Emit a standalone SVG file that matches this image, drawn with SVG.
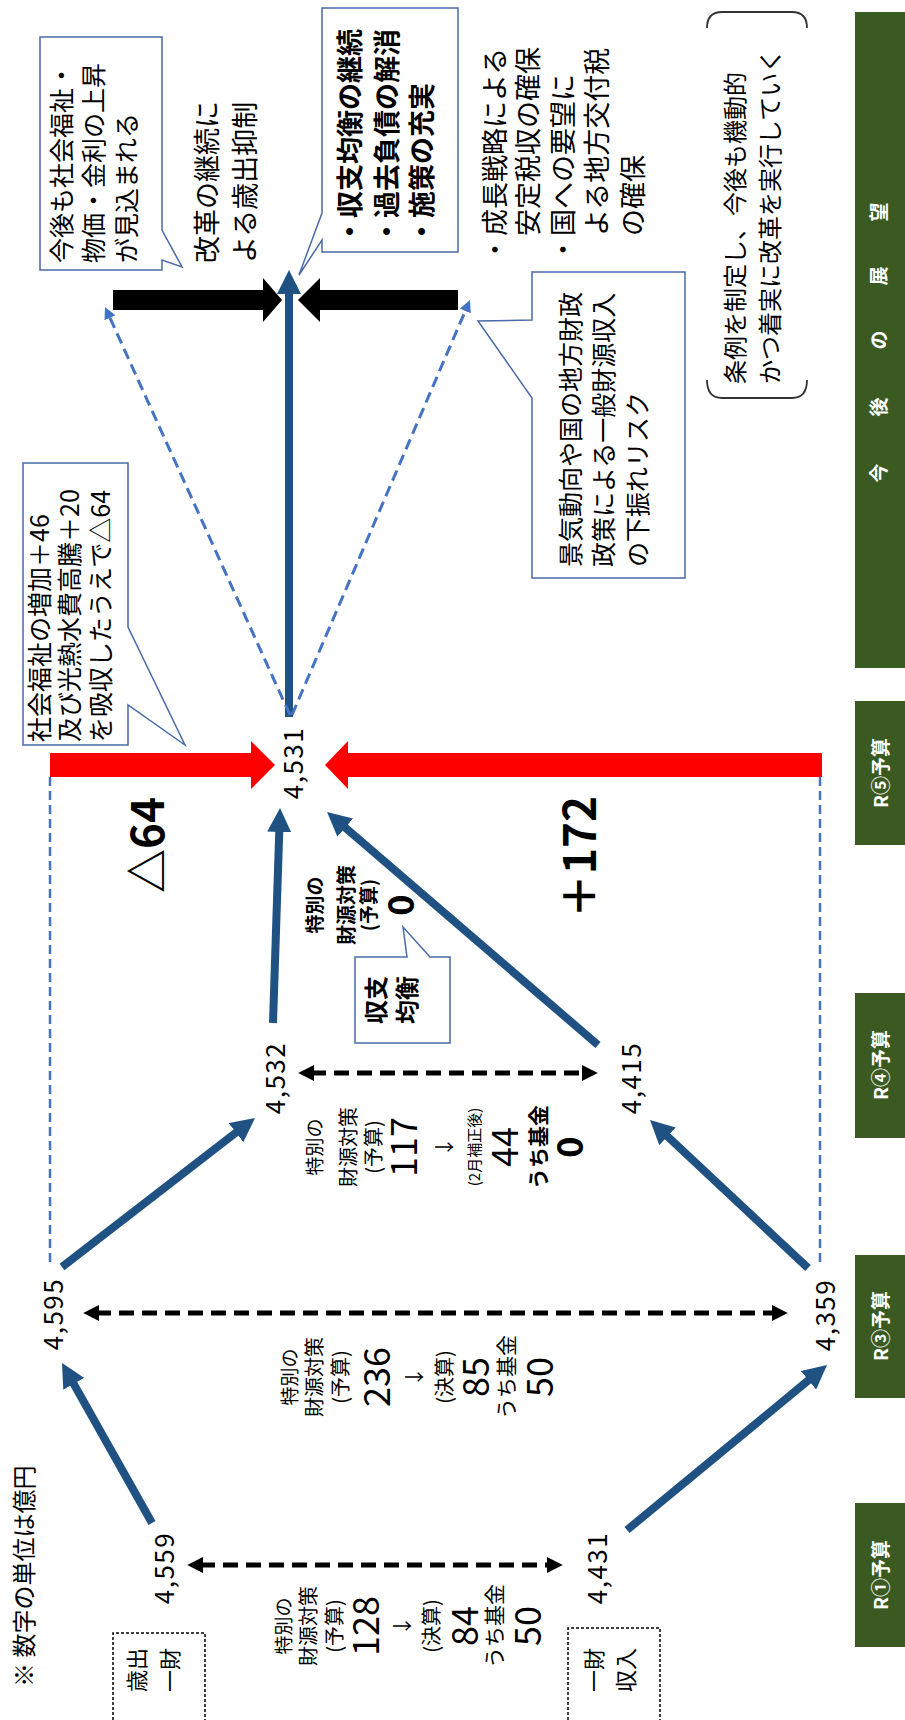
<svg xmlns="http://www.w3.org/2000/svg" width="905" height="1720" viewBox="0 0 905 1720">
<style>
text{font-family:'Noto Sans CJK JP','Noto Sans',sans-serif;fill:#000}
.m{text-anchor:middle}
.b{font-weight:bold}
.val{font-size:26px;text-anchor:middle;letter-spacing:1.5px}
.g{fill:#3b5a22}
.gl{fill:#fff;font-weight:bold;font-size:19px;text-anchor:middle}
.blue{stroke:#1f5183;stroke-width:8;fill:none;marker-end:url(#ab)}
.bd{stroke:#000;stroke-width:5;stroke-dasharray:15 8;fill:none;marker-start:url(#ak);marker-end:url(#ak)}
.td{stroke:#4472c4;stroke-width:2.5;stroke-dasharray:9 5;fill:none}
.tda{stroke:#4472c4;stroke-width:3;stroke-dasharray:11 6;fill:none;marker-end:url(#ad)}
.co{fill:#fff;stroke:#4a6aa8;stroke-width:1.5}
.db{fill:none;stroke:#000;stroke-width:1.5;stroke-dasharray:3 2}
.red{fill:#ff0000}
.blk{fill:#000}
</style>
<defs>
<marker id="ab" viewBox="0 0 10 10" refX="2" refY="5" markerWidth="3" markerHeight="3" orient="auto"><path d="M0,0 L10,5 L0,10 z" fill="#1f5183"/></marker>
<marker id="ak" viewBox="0 0 10 10" refX="2" refY="5" markerWidth="3.2" markerHeight="3.2" orient="auto-start-reverse"><path d="M0,0 L10,5 L0,10 z" fill="#000"/></marker>
<marker id="ad" viewBox="0 0 10 10" refX="2" refY="5" markerWidth="4" markerHeight="4" orient="auto"><path d="M0,0 L10,5 L0,10 z" fill="#4472c4"/></marker>
</defs>
<rect width="905" height="1720" fill="#fff"/>
<g transform="translate(0,1720) rotate(-90)">
  <g id="timeline">
    <rect class="g" x="73" y="855" width="144" height="52"/>
    <text class="gl" x="145" y="888">R①予算</text>
    <rect class="g" x="322" y="855" width="143" height="52"/>
    <text class="gl" x="394" y="888">R③予算</text>
    <rect class="g" x="582" y="855" width="145" height="52"/>
    <text class="gl" x="655" y="888">R④予算</text>
    <rect class="g" x="875" y="855" width="144" height="52"/>
    <text class="gl" x="947" y="888">R⑤予算</text>
    <rect class="g" x="1052" y="855" width="656" height="52"/>
    <text class="gl" x="1247 1313 1380 1444 1508" y="886">今後の展望</text>
  </g>
  <g id="note">
    <text x="33" y="33" font-size="24">※ 数字の単位は億円</text>
  </g>
  <g id="legend-expenditure">
    <rect class="db" x="-5" y="113" width="92" height="92"/>
    <text class="m" x="50" y="145" font-size="22">歳出</text>
    <text class="m" x="50" y="178" font-size="22">一財</text>
  </g>
  <g id="legend-revenue">
    <rect class="db" x="-5" y="568" width="97" height="92"/>
    <text class="m" x="50" y="602" font-size="22">一財</text>
    <text class="m" x="50" y="634" font-size="22">収入</text>
  </g>
  <g id="connectors">
    <line class="td" x1="458" y1="50" x2="943" y2="50"/>
    <line class="td" x1="458" y1="820" x2="943" y2="820"/>
    <line class="blue" x1="197" y1="152" x2="340.3" y2="71.4"/>
    <line class="blue" x1="453" y1="62" x2="590.3" y2="239.8"/>
    <line class="blue" x1="190" y1="627" x2="342.8" y2="812.2"/>
    <line class="blue" x1="452" y1="808" x2="586.9" y2="664"/>
    <line class="blue" x1="697" y1="273" x2="892.8" y2="279.4"/>
    <line class="blue" x1="675" y1="598" x2="895.5" y2="341.6"/>
    <line class="blue" x1="1003" y1="289" x2="1430.8" y2="289"/>
    <line class="bd" x1="155" y1="200" x2="155" y2="550"/>
    <line class="bd" x1="407" y1="96" x2="407" y2="775"/>
    <line class="bd" x1="647" y1="311" x2="647" y2="585"/>
    <line class="tda" x1="1005" y1="290" x2="1404.3" y2="109"/>
    <line class="tda" x1="1005" y1="292" x2="1411.2" y2="466.2"/>
    <polygon class="red" points="943,50 967,50 967,251 979,251 955,275 931,251 943,251"/>
    <polygon class="red" points="943,822 967,822 967,348 979,348 955,325 931,348 943,348"/>
    <polygon class="blk" points="1410,113 1430,113 1430,263 1442,263 1420,282 1398,263 1410,263"/>
    <polygon class="blk" points="1410,458 1430,458 1430,320 1442,320 1420,298 1398,320 1410,320"/>
  </g>
  <g id="n4559"><text class="val" x="152" y="174">4,559</text></g>
  <g id="n4431"><text class="val" x="152" y="607">4,431</text></g>
  <g id="n4595"><text class="val" x="406" y="63">4,595</text></g>
  <g id="n4359"><text class="val" x="405" y="835">4,359</text></g>
  <g id="n4532"><text class="val" x="642" y="285">4,532</text></g>
  <g id="n4415"><text class="val" x="642" y="641">4,415</text></g>
  <g id="n4531"><text class="val" x="957" y="303">4,531</text></g>
  <g id="r1-detail" class="m">
    <text class="m" x="94" y="291" font-size="19">特別の</text>
    <text class="m" x="94" y="316" font-size="20">財源対策</text>
    <text class="m" x="94" y="342" font-size="20">(予算)</text>
    <text class="m" x="94" y="379" font-size="36">128</text>
    <text class="m" x="94" y="410" font-size="20">↓</text>
    <text class="m" x="94" y="439" font-size="20">(決算)</text>
    <text class="m" x="94" y="478" font-size="36">84</text>
    <text class="m" x="94" y="502" font-size="21">うち基金</text>
    <text class="m" x="94" y="541" font-size="36">50</text>
  </g>
  <g id="r3-detail">
    <text class="m" x="343" y="297" font-size="19">特別の</text>
    <text class="m" x="343" y="322" font-size="20">財源対策</text>
    <text class="m" x="343" y="348" font-size="20">(予算)</text>
    <text class="m" x="343" y="390" font-size="36">236</text>
    <text class="m" x="343" y="422" font-size="20">↓</text>
    <text class="m" x="343" y="452" font-size="20">(決算)</text>
    <text class="m" x="343" y="489" font-size="36">85</text>
    <text class="m" x="343" y="514" font-size="21">うち基金</text>
    <text class="m" x="343" y="553" font-size="36">50</text>
  </g>
  <g id="r4-detail">
    <text class="m" x="573" y="322" font-size="19">特別の</text>
    <text class="m" x="573" y="356" font-size="20">財源対策</text>
    <text class="m" x="573" y="381" font-size="20">(予算)</text>
    <text class="m" x="573" y="417" font-size="36">117</text>
    <text class="m" x="573" y="452" font-size="20">↓</text>
    <text class="m" x="573" y="480" font-size="15">(2月補正後)</text>
    <text class="m" x="573" y="518" font-size="36">44</text>
    <text class="m b" x="573" y="546" font-size="21">うち基金</text>
    <text class="m b" x="573" y="583" font-size="36">0</text>
  </g>
  <g id="r5-detail">
    <text class="m b" x="815" y="322" font-size="19">特別の</text>
    <text class="m b" x="815" y="354" font-size="20">財源対策</text>
    <text class="m b" x="815" y="376" font-size="19">(予算)</text>
    <text class="m b" x="815" y="414" font-size="36">0</text>
  </g>
  <g id="diff-minus">
    <text class="m b" x="875" y="164" font-size="44">△64</text>
  </g>
  <g id="diff-plus">
    <text class="m b" x="863" y="596" font-size="44">＋172</text>
  </g>
  <g id="callout-balance">
    <path class="co" d="M677,355 H763 V407 L793,403 L763,430 V450 H677 Z"/>
    <text class="m b" x="720" y="385" font-size="24">収支</text>
    <text class="m b" x="720" y="416" font-size="24">均衡</text>
  </g>
  <g id="callout-absorb">
    <path class="co" d="M975,23 H1257 V128 H1093 L975,185 L1015,128 H975 Z"/>
    <text x="978" y="49" font-size="25">社会福祉の増加＋46</text>
    <text x="978" y="79" font-size="25">及び光熱水費高騰＋20</text>
    <text x="978" y="110" font-size="25">を吸収したうえで△64</text>
  </g>
  <g id="callout-rise">
    <path class="co" d="M1450,40 H1683 V162 H1490 L1453,182 L1460,162 H1450 Z"/>
    <text x="1457" y="71" font-size="25">今後も社会福祉・</text>
    <text x="1457" y="103" font-size="25">物価・金利の上昇</text>
    <text x="1457" y="136" font-size="25">が見込まれる</text>
  </g>
  <g id="note-reform">
    <text x="1457" y="217" font-size="27">改革の継続に</text>
    <text x="1457" y="255" font-size="27">よる歳出抑制</text>
  </g>
  <g id="callout-goals">
    <path class="co" d="M1468,322 H1480 L1445,299 L1507,322 H1712 V458 H1468 Z"/>
    <text class="b" x="1475" y="360" font-size="27">・収支均衡の継続</text>
    <text class="b" x="1475" y="397" font-size="27">・過去負債の解消</text>
    <text class="b" x="1475" y="432" font-size="27">・施策の充実</text>
  </g>
  <g id="note-revenue">
    <text x="1457" y="505" font-size="27">・成長戦略による</text>
    <text x="1457" y="538" font-size="27">　安定税収の確保</text>
    <text x="1457" y="573" font-size="27">・国への要望に</text>
    <text x="1457" y="607" font-size="27">　よる地方交付税</text>
    <text x="1457" y="643" font-size="27">　の確保</text>
  </g>
  <g id="callout-risk">
    <path class="co" d="M1142,532 H1322 L1399,478 L1400,532 H1448 V685 H1142 Z"/>
    <text x="1153" y="580" font-size="25">景気動向や国の地方財政</text>
    <text x="1153" y="613" font-size="25">政策による一般財源収入</text>
    <text x="1153" y="647" font-size="25">の下振れリスク</text>
  </g>
  <g id="note-ordinance">
    <path d="M1340,707 Q1322,707 1322,722 V792 Q1322,807 1340,807" fill="none" stroke="#333" stroke-width="1.8"/>
    <path d="M1692,707 Q1708,707 1708,722 V792 Q1708,807 1692,807" fill="none" stroke="#333" stroke-width="1.8"/>
    <text x="1336" y="744" font-size="24">条例を制定し、今後も機動的</text>
    <text x="1336" y="779" font-size="24">かつ着実に改革を実行していく</text>
  </g>
</g>
</svg>
